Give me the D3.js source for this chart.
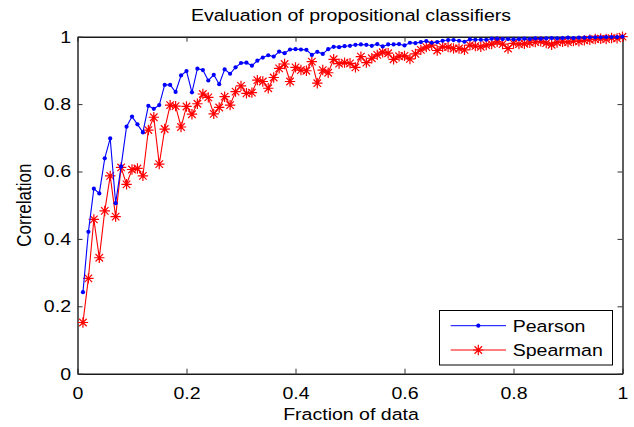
<!DOCTYPE html>
<html>
<head>
<meta charset="utf-8">
<script src="https://cdn.jsdelivr.net/npm/d3@7"></script>
<style>
html,body{margin:0;padding:0;background:#fff;}
svg{display:block;}
text{font-family:"Liberation Sans",Arial,Helvetica,sans-serif;fill:#000;}
</style>
</head>
<body>
<svg id="chart" width="634" height="427"></svg>
<script>
const fractions = d3.range(1, 101).map(i => i / 100);
const pearson = [
0.242,0.421,0.549,0.535,0.639,0.698,0.506,0.615,0.733,0.763,
0.740,0.716,0.795,0.786,0.797,0.857,0.857,0.836,0.885,0.898,
0.835,0.905,0.901,0.870,0.887,0.859,0.903,0.890,0.909,0.922,
0.923,0.914,0.929,0.938,0.945,0.941,0.956,0.951,0.962,0.963,
0.962,0.961,0.946,0.955,0.949,0.963,0.970,0.969,0.972,0.973,
0.976,0.977,0.976,0.973,0.978,0.971,0.977,0.977,0.978,0.974,
0.982,0.981,0.984,0.987,0.982,0.984,0.988,0.990,0.990,0.988,
0.985,0.992,0.991,0.991,0.991,0.994,0.994,0.993,0.993,0.992,
0.993,0.994,0.993,0.995,0.994,0.995,0.996,0.995,0.996,0.997,
0.996,0.997,0.997,0.998,0.998,0.998,0.999,0.999,0.999,1.000];
const spearman = [
0.152,0.283,0.458,0.344,0.483,0.587,0.466,0.612,0.562,0.606,
0.609,0.587,0.723,0.761,0.622,0.726,0.797,0.794,0.732,0.793,
0.770,0.801,0.830,0.820,0.771,0.790,0.822,0.797,0.837,0.854,
0.832,0.834,0.871,0.867,0.847,0.879,0.906,0.919,0.867,0.909,
0.901,0.899,0.926,0.862,0.901,0.893,0.933,0.920,0.923,0.921,
0.909,0.941,0.923,0.936,0.946,0.954,0.951,0.933,0.942,0.943,
0.934,0.949,0.961,0.969,0.975,0.959,0.970,0.969,0.965,0.965,
0.961,0.975,0.972,0.970,0.975,0.978,0.985,0.978,0.965,0.980,
0.978,0.979,0.982,0.984,0.986,0.981,0.976,0.983,0.985,0.984,
0.987,0.986,0.989,0.991,0.993,0.994,0.993,0.996,0.995,1.000];
const xTicks = [0, 0.2, 0.4, 0.6, 0.8, 1];
const yTicks = [0, 0.2, 0.4, 0.6, 0.8, 1];
const seriesNames = ["Pearson", "Spearman"];
const title = "Evaluation of propositional classifiers";
const xLabel = "Fraction of data";
const yLabel = "Correlation";

const svg = d3.select("#chart");
const L = 77.5, R = 622.5, T = 36.7, B = 373.7;
const FS = 17, SX = 1.15;
const x = d3.scaleLinear().domain([0, 1]).range([L, R]);
const y = d3.scaleLinear().domain([0, 1]).range([B, T]);
const fmt = d => String(d);

// horizontally stretched text (the reference figure is widened)
function stretch(sel) {
  sel.each(function () {
    const t = d3.select(this);
    const ax = +t.attr("x") || 0, ay = +t.attr("y") || 0;
    t.attr("transform", `translate(${ax},${ay}) scale(${SX},1) translate(${-ax},${-ay})`);
  });
}

// axes (MATLAB style inward ticks, box)
const tl = 5;
const gB = svg.append("g").attr("transform", `translate(0,${B})`)
  .call(d3.axisBottom(x).tickValues(xTicks).tickFormat(fmt).tickSizeInner(-tl).tickSizeOuter(0).tickPadding(13.6));
const gT = svg.append("g").attr("transform", `translate(0,${T})`)
  .call(d3.axisTop(x).tickValues(xTicks).tickFormat("").tickSizeInner(-tl).tickSizeOuter(0));
const gL = svg.append("g").attr("transform", `translate(${L},0)`)
  .call(d3.axisLeft(y).tickValues(yTicks).tickFormat(fmt).tickSizeInner(-tl).tickSizeOuter(0).tickPadding(6.5));
const gR = svg.append("g").attr("transform", `translate(${R},0)`)
  .call(d3.axisRight(y).tickValues(yTicks).tickFormat("").tickSizeInner(-tl).tickSizeOuter(0));
[gB, gT, gL, gR].forEach(g => {
  g.select(".domain").attr("stroke", "#1a1a1a").attr("stroke-width", 1.4);
  g.selectAll(".tick line").attr("stroke", "#333").attr("stroke-width", 1);
  g.selectAll(".tick text").attr("font-size", FS).attr("font-family", "Liberation Sans, Arial, sans-serif").attr("fill", "#000");
});
stretch(gB.selectAll(".tick text"));
stretch(gL.selectAll(".tick text"));

// series
const line = d3.line().x((d, i) => x(fractions[i])).y(d => y(d));
const starPath = (cx, cy, r) => {
  const d = r * 0.72;
  return `M${cx - r},${cy}L${cx + r},${cy}M${cx},${cy - r}L${cx},${cy + r}` +
         `M${cx - d},${cy - d}L${cx + d},${cy + d}M${cx - d},${cy + d}L${cx + d},${cy - d}`;
};
svg.append("path").datum(spearman).attr("d", line)
  .attr("fill", "none").attr("stroke", "#ff0000").attr("stroke-width", 1.1);
svg.append("g").selectAll("path").data(spearman).join("path")
  .attr("d", (d, i) => starPath(x(fractions[i]), y(d), 5.2))
  .attr("stroke", "#ff0000").attr("stroke-width", 1.2).attr("fill", "none");
svg.append("path").datum(pearson).attr("d", line)
  .attr("fill", "none").attr("stroke", "#0000ff").attr("stroke-width", 1.1);
svg.append("g").selectAll("circle").data(pearson).join("circle")
  .attr("cx", (d, i) => x(fractions[i])).attr("cy", d => y(d)).attr("r", 2.1)
  .attr("fill", "#0000ff");

// title and labels
stretch(svg.append("text").attr("x", 351).attr("y", 21).attr("text-anchor", "middle")
  .attr("font-size", FS).text(title));
stretch(svg.append("text").attr("x", 351).attr("y", 420).attr("text-anchor", "middle")
  .attr("font-size", FS).text(xLabel));
svg.append("text").attr("transform", `translate(31,${(T + B) / 2}) scale(${SX},1) rotate(-90)`)
  .attr("text-anchor", "middle").attr("font-size", FS).text(yLabel);

// legend
const lg = svg.append("g");
lg.append("rect").attr("x", 439.5).attr("y", 310.5).attr("width", 173).attr("height", 54.5)
  .attr("fill", "#fff").attr("stroke", "#000").attr("stroke-width", 1);
const lys = [325.7, 350];
const colors = ["#0000ff", "#ff0000"];
seriesNames.forEach((name, k) => {
  lg.append("line").attr("x1", 450.7).attr("x2", 506).attr("y1", lys[k]).attr("y2", lys[k])
    .attr("stroke", colors[k]).attr("stroke-width", 1);
  if (k === 0) lg.append("circle").attr("cx", 478.3).attr("cy", lys[k]).attr("r", 2.1).attr("fill", colors[k]);
  else lg.append("path").attr("d", starPath(478.3, lys[k], 5.2)).attr("stroke", colors[k]).attr("stroke-width", 1.2).attr("fill", "none");
  stretch(lg.append("text").attr("x", 512.7).attr("y", lys[k] + 6.3).attr("font-size", FS).text(name));
});
</script>
</body>
</html>
